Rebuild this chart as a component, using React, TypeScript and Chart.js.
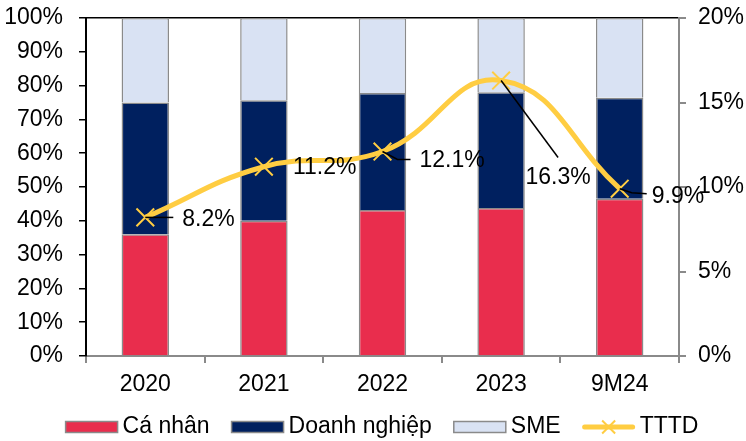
import React, { useEffect, useRef } from "react";
import { Chart, registerables } from "chart.js";

Chart.register(...registerables);

const categories = ["2020", "2021", "2022", "2023", "9M24"];
const caNhan = [36, 40, 43.2, 43.8, 46.5];
const doanhNghiep = [39, 35.7, 34.6, 34.2, 29.9];
const sme = [25, 24.3, 22.2, 22, 23.6];
const tttd = [8.2, 11.2, 12.1, 16.3, 9.9];
const tttdLabels = ["8.2%", "11.2%", "12.1%", "16.3%", "9.9%"];
const seriesNames = ["Cá nhân", "Doanh nghiệp", "SME", "TTTD"];

const RED = "#E92D4D";
const NAVY = "#00205F";
const LIGHT = "#D9E2F3";
const GOLD = "#FFCD42";
const FONT = "Liberation Sans, Arial, sans-serif";
const FS = 23;

// label leader / offset layout (style only, relative to each point)
const labelLayout = [
  { leader: [[0, 0], [28, 0]], tx: 37, ty: 2, align: "left" },
  { leader: [], tx: 29, ty: 1, align: "left" },
  { leader: [[0, 0], [15, 8], [28, 8]], tx: 37, ty: 9, align: "left" },
  { leader: [[0, 0], [57, 77]], tx: 57, ty: 97, align: "center" },
  { leader: [[0, 0], [12, 4], [27, 5]], tx: 32, ty: 8, align: "left" },
];

const labelPlugin = {
  id: "tttdLabels",
  afterDatasetsDraw(chart: any) {
    const ctx = chart.ctx;
    const meta = chart.getDatasetMeta(3);
    ctx.save();
    meta.data.forEach((pt: any, i: number) => {
      const L = labelLayout[i];
      const x = pt.x;
      const y = pt.y;
      if (L.leader.length) {
        ctx.beginPath();
        ctx.strokeStyle = "#000";
        ctx.lineWidth = 1.5;
        L.leader.forEach((p: number[], j: number) => {
          if (j === 0) ctx.moveTo(x + p[0], y + p[1]);
          else ctx.lineTo(x + p[0], y + p[1]);
        });
        ctx.stroke();
      }
      ctx.fillStyle = "#000";
      ctx.font = `${FS}px ${FONT}`;
      ctx.textAlign = L.align;
      ctx.textBaseline = "middle";
      ctx.fillText(tttdLabels[i], x + L.tx, y + L.ty);
    });
    ctx.restore();
  },
};

const legendPlugin = {
  id: "customLegend",
  afterDraw(chart: any) {
    const ctx = chart.ctx;
    ctx.save();
    ctx.font = `${FS}px ${FONT}`;
    const boxW = 52;
    const boxH = 11;
    const gap = 5;
    const itemGap = 22;
    const widths = seriesNames.map((n) => boxW + gap + ctx.measureText(n).width);
    const total = widths.reduce((a, b) => a + b, 0) + itemGap * (seriesNames.length - 1);
    let x = 382 - total / 2;
    const cy = 427;
    chart.data.datasets.forEach((ds: any, i: number) => {
      if (ds.type === "line") {
        ctx.beginPath();
        ctx.strokeStyle = GOLD;
        ctx.lineWidth = 5;
        ctx.lineCap = "round";
        ctx.moveTo(x + 2, cy);
        ctx.lineTo(x + boxW - 2, cy);
        ctx.stroke();
        ctx.lineWidth = 2;
        ctx.lineCap = "butt";
        const r = 6.5;
        const mx = x + boxW / 2;
        ctx.beginPath();
        ctx.moveTo(mx - r, cy - r);
        ctx.lineTo(mx + r, cy + r);
        ctx.moveTo(mx + r, cy - r);
        ctx.lineTo(mx - r, cy + r);
        ctx.stroke();
      } else {
        ctx.fillStyle = ds.backgroundColor;
        ctx.fillRect(x, cy - boxH / 2, boxW, boxH);
        ctx.strokeStyle = "#8a8a8a";
        ctx.lineWidth = 1.5;
        ctx.strokeRect(x, cy - boxH / 2, boxW, boxH);
      }
      ctx.fillStyle = "#000";
      ctx.textAlign = "left";
      ctx.textBaseline = "middle";
      ctx.fillText(ds.label, x + boxW + gap, cy);
      x += widths[i] + itemGap;
    });
    ctx.restore();
  },
};

export default function App() {
  const ref = useRef<HTMLCanvasElement | null>(null);
  useEffect(() => {
    if (!ref.current) return;
    const font = { family: FONT, size: FS };
    const barCommon = {
      type: "bar" as const,
      borderColor: "#8a8a8a",
      borderWidth: 1.5,
      barPercentage: 0.4,
      categoryPercentage: 1,
      yAxisID: "y",
      order: 2,
    };
    const fixV = (w: number) => (s: any) => {
      s.width = w;
      s.paddingTop = 0;
      s.paddingBottom = 0;
    };
    const chart = new Chart(ref.current, {
      type: "bar",
      data: {
        labels: categories,
        datasets: [
          { ...barCommon, label: seriesNames[0], data: caNhan, backgroundColor: RED },
          { ...barCommon, label: seriesNames[1], data: doanhNghiep, backgroundColor: NAVY },
          { ...barCommon, label: seriesNames[2], data: sme, backgroundColor: LIGHT },
          {
            type: "line",
            label: seriesNames[3],
            data: tttd,
            yAxisID: "y1",
            borderColor: GOLD,
            backgroundColor: GOLD,
            borderWidth: 5,
            tension: 0.45,
            pointStyle: "crossRot",
            pointRadius: 12.5,
            pointBorderWidth: 2,
            pointBorderColor: GOLD,
            pointBackgroundColor: GOLD,
            order: 0,
          } as any,
        ],
      },
      options: {
        animation: false,
        responsive: false,
        maintainAspectRatio: false,
        layout: { padding: { top: 18, bottom: 40, left: 0, right: 0 } },
        plugins: { legend: { display: false }, tooltip: { enabled: false } },
        scales: {
          x: {
            stacked: true,
            ticks: { font, color: "#000", padding: 8 },
            grid: {
              offset: true,
              drawOnChartArea: false,
              tickLength: 7,
              color: "#8a8a8a",
              tickColor: "#8a8a8a",
              lineWidth: 2,
            },
            border: { color: "#8a8a8a", width: 2 },
            afterFit: (s: any) => {
              s.height = 45;
              s.paddingLeft = 0;
              s.paddingRight = 0;
            },
          },
          y: {
            stacked: true,
            min: 0,
            max: 100,
            ticks: { stepSize: 10, font, color: "#000", padding: 16, callback: (v: any) => v + "%" },
            grid: {
              color: (c: any) => (c.tick && c.tick.value === 100 ? "#000" : "rgba(0,0,0,0)"),
              tickColor: "#000",
              tickLength: 7,
              lineWidth: 1.5,
            },
            border: { color: "#000", width: 2 },
            afterFit: fixV(86),
          },
          y1: {
            position: "right",
            min: 0,
            max: 20,
            ticks: { stepSize: 5, font, color: "#000", padding: 12, callback: (v: any) => v + "%" },
            grid: {
              drawOnChartArea: false,
              tickColor: "#8a8a8a",
              tickLength: 7,
              lineWidth: 2,
            },
            border: { color: "#8a8a8a", width: 2 },
            afterFit: fixV(67),
          },
        },
      } as any,
      plugins: [labelPlugin, legendPlugin],
    });
    return () => chart.destroy();
  }, []);
  return (
    <div style={{ position: "absolute", left: 0, top: 0, width: 746, height: 441, background: "#fff" }}>
      <canvas ref={ref} width={746} height={441} style={{ width: 746, height: 441 }} />
    </div>
  );
}
